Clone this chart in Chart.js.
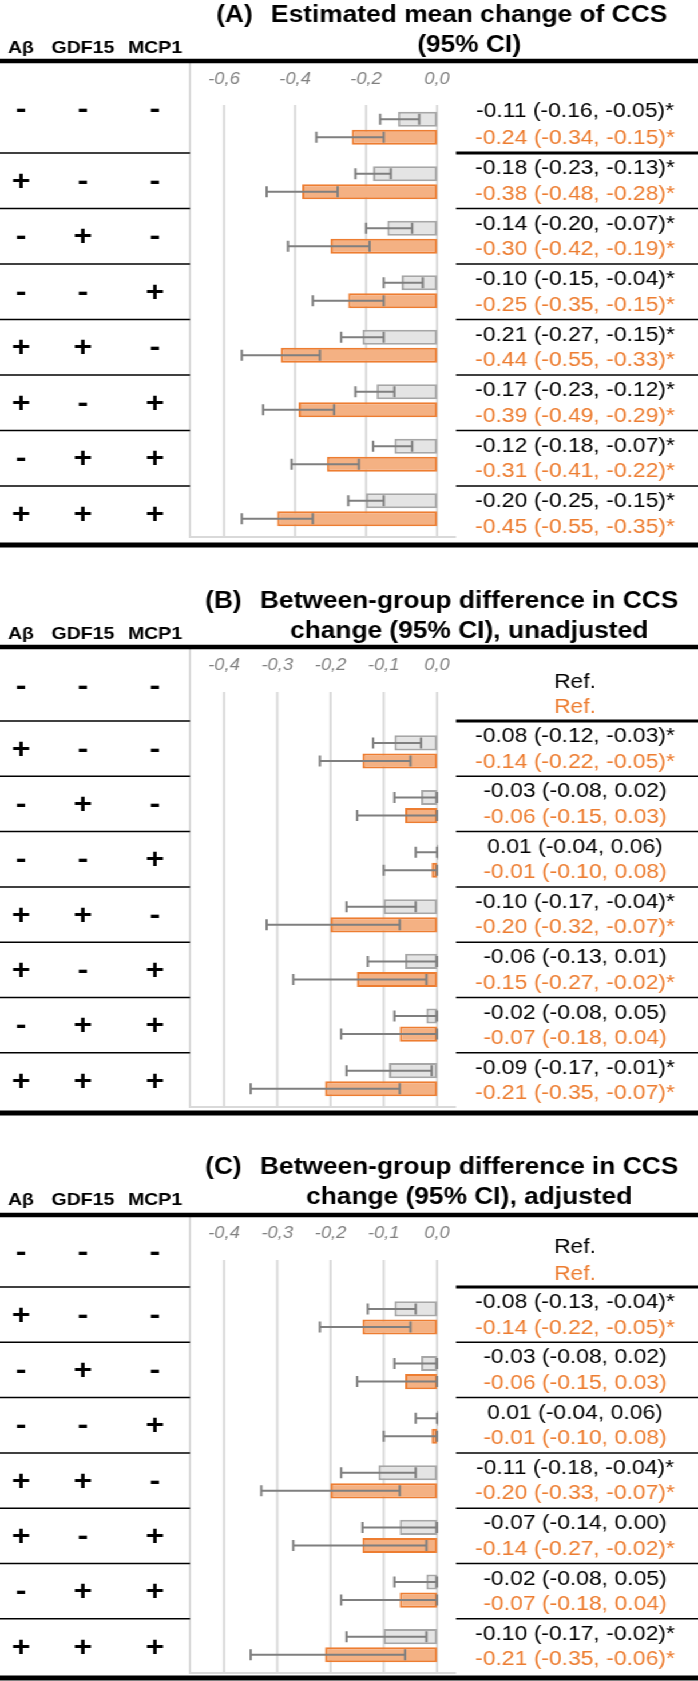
<!DOCTYPE html>
<html lang="en">
<head>
<meta charset="utf-8">
<title>CCS change by biomarker profile</title>
<script src="https://cdn.jsdelivr.net/npm/chart.js@4.4.1/dist/chart.umd.min.js"></script>
<style>
  html, body { margin: 0; padding: 0; background: #fff; overflow: hidden; }
  /* the figure is drawn 610 wide and stretched sideways, like the source picture */
  #page { position: relative; width: 610px; height: 1681px; transform: scaleX(1.1443); transform-origin: 0 0; }
  .panel { position: absolute; left: 0; width: 610px; }
</style>
</head>
<body>
<div id="page">
  <div class="panel" style="top:0;height:586px"><canvas id="chartA"></canvas></div>
  <div class="panel" style="top:586px;height:566px"><canvas id="chartB"></canvas></div>
  <div class="panel" style="top:1152px;height:529px"><canvas id="chartC"></canvas></div>
</div>
<script>
// Table rows (biomarker status)
const rowIds = ['r1', 'r2', 'r3', 'r4', 'r5', 'r6', 'r7', 'r8'];
const abeta = ['-', '+', '-', '-', '+', '+', '-', '+'];
const gdf15 = ['-', '-', '+', '-', '+', '-', '+', '+'];
const mcp1  = ['-', '-', '-', '+', '-', '+', '+', '+'];

// (A) Estimated mean change of CCS
const meanGray   = [-0.11, -0.18, -0.14, -0.10, -0.21, -0.17, -0.12, -0.20];
const lowGray    = [-0.16, -0.23, -0.20, -0.15, -0.27, -0.23, -0.18, -0.25];
const highGray   = [-0.05, -0.13, -0.07, -0.04, -0.15, -0.12, -0.07, -0.15];
const meanOrange = [-0.24, -0.38, -0.30, -0.25, -0.44, -0.39, -0.31, -0.45];
const lowOrange  = [-0.34, -0.48, -0.42, -0.35, -0.55, -0.49, -0.41, -0.55];
const highOrange = [-0.15, -0.28, -0.19, -0.15, -0.33, -0.29, -0.22, -0.35];

// (B) Between-group difference, unadjusted (first row = reference)
const diffGray       = [null, -0.08, -0.03, 0.01, -0.10, -0.06, -0.02, -0.09];
const diffGrayLow    = [null, -0.12, -0.08, -0.04, -0.17, -0.13, -0.08, -0.17];
const diffGrayHigh   = [null, -0.03, 0.02, 0.06, -0.04, 0.01, 0.05, -0.01];
const diffOrange     = [null, -0.14, -0.06, -0.01, -0.20, -0.15, -0.07, -0.21];
const diffOrangeLow  = [null, -0.22, -0.15, -0.10, -0.32, -0.27, -0.18, -0.35];
const diffOrangeHigh = [null, -0.05, 0.03, 0.08, -0.07, -0.02, 0.04, -0.07];

// (C) Between-group difference, adjusted
const adjGray       = [null, -0.08, -0.03, 0.01, -0.11, -0.07, -0.02, -0.10];
const adjGrayLow    = [null, -0.13, -0.08, -0.04, -0.18, -0.14, -0.08, -0.17];
const adjGrayHigh   = [null, -0.04, 0.02, 0.06, -0.04, 0.00, 0.05, -0.02];
const adjOrange     = [null, -0.14, -0.06, -0.01, -0.20, -0.14, -0.07, -0.21];
const adjOrangeLow  = [null, -0.22, -0.15, -0.10, -0.33, -0.27, -0.18, -0.35];
const adjOrangeHigh = [null, -0.05, 0.03, 0.08, -0.07, -0.02, 0.04, -0.06];

// Axis ticks
const ticksA = [-0.6, -0.4, -0.2, 0];
const tickLabelsA = ['-0,6', '-0,4', '-0,2', '0,0'];
const ticksBC = [-0.4, -0.3, -0.2, -0.1, 0];
const tickLabelsBC = ['-0,4', '-0,3', '-0,2', '-0,1', '0,0'];

// Styles
const FONT = '"Liberation Sans", Arial, sans-serif';
const GRAY_FILL = '#e4e4e4', GRAY_LINE = '#a6a6a6';
const ORANGE_FILL = '#f4b183', ORANGE_LINE = '#ed7d31';
const WHISKER = '#7f7f7f', GRID = '#d9d9d9';
const colX = [18.4, 72.5, 135.5];
const boxLeft = 166, boxRight = 398.5, plotLeft = 195.8, plotRight = 381.9, textX = 502.5;
const tickSize = 16;

const panels = [
  { id: 'chartA', letter: '(A)', title: ['Estimated mean change of CCS', '(95% CI)'], height: 586,
    ticks: ticksA, tickLabels: tickLabelsA,
    gray: [meanGray, lowGray, highGray], orange: [meanOrange, lowOrange, highOrange],
    rule: 61, tickY: 80, areaTop: 101, areaBottom: 537, gridTop: 105, endRule: 545,
    firstText: [111, 138], firstSigns: 110, sepStart: 153, sepStep: 55.5 },
  { id: 'chartB', letter: '(B)', title: ['Between-group difference in CCS', 'change (95% CI), unadjusted'], height: 566,
    ticks: ticksBC, tickLabels: tickLabelsBC,
    gray: [diffGray, diffGrayLow, diffGrayHigh], orange: [diffOrange, diffOrangeLow, diffOrangeHigh],
    rule: 61, tickY: 80, areaTop: 84, areaBottom: 521, gridTop: 106, endRule: 527,
    firstText: [96, 121], firstSigns: 101, sepStart: 135, sepStep: 55.3 },
  { id: 'chartC', letter: '(C)', title: ['Between-group difference in CCS', 'change (95% CI), adjusted'], height: 529,
    ticks: ticksBC, tickLabels: tickLabelsBC,
    gray: [adjGray, adjGrayLow, adjGrayHigh], orange: [adjOrange, adjOrangeLow, adjOrangeHigh],
    rule: 63, tickY: 82, areaTop: 84, areaBottom: 521, gridTop: 108, endRule: 526,
    firstText: [95, 122], firstSigns: 101, sepStart: 135, sepStep: 55.3 }
];

function fmt(v) { return v.toFixed(2); }
function ciText(m, lo, hi) {
  if (m == null) return 'Ref.';
  return `${fmt(m)} (${fmt(lo)}, ${fmt(hi)})` + (hi < 0 ? '*' : '');
}

function hline(ctx, x1, x2, y, w, color) {
  ctx.beginPath();
  ctx.lineWidth = w;
  ctx.strokeStyle = color;
  ctx.moveTo(x1, y);
  ctx.lineTo(x2, y);
  ctx.stroke();
}

function makePanelPlugin(p) {
  return {
    id: 'panel_' + p.id,
    beforeDatasetsDraw(chart) {
      // vertical gridlines at the tick values
      const ctx = chart.ctx, xs = chart.scales.x;
      ctx.save();
      ctx.strokeStyle = GRID;
      ctx.lineWidth = 2;
      xs.ticks.forEach(t => {
        const x = xs.getPixelForValue(t.value);
        ctx.beginPath();
        ctx.moveTo(x, p.gridTop);
        ctx.lineTo(x, chart.chartArea.bottom);
        ctx.stroke();
      });
      ctx.restore();
    },
    afterDatasetsDraw(chart) {
      // confidence intervals
      const ctx = chart.ctx, xs = chart.scales.x;
      const series = [p.gray, p.orange];
      ctx.save();
      ctx.strokeStyle = WHISKER;
      ctx.lineWidth = 2;
      series.forEach((s, d) => {
        const meta = chart.getDatasetMeta(d);
        meta.data.forEach((bar, j) => {
          if (s[0][j] == null) return;
          const lo = Math.max(s[1][j], xs.min), hi = Math.min(s[2][j], xs.max);
          const x1 = xs.getPixelForValue(lo), x2 = xs.getPixelForValue(hi);
          const y = bar.y;
          ctx.beginPath();
          ctx.moveTo(x1, y); ctx.lineTo(x2, y);
          ctx.moveTo(x1, y - 5.5); ctx.lineTo(x1, y + 5.5);
          ctx.moveTo(x2, y - 5.5); ctx.lineTo(x2, y + 5.5);
          ctx.stroke();
        });
      });
      ctx.restore();
    },
    afterDraw(chart) {
      const ctx = chart.ctx, W = chart.width;
      const bottom = chart.chartArea.bottom;
      ctx.save();

      // chart frame
      ctx.strokeStyle = GRID;
      ctx.lineWidth = 2;
      ctx.beginPath();
      ctx.moveTo(boxLeft, p.rule);
      ctx.lineTo(boxLeft, bottom);
      ctx.lineTo(boxRight, bottom);
      ctx.stroke();

      // title
      ctx.fillStyle = '#000';
      ctx.textBaseline = 'middle';
      ctx.font = `bold 23px ${FONT}`;
      ctx.textAlign = 'center';
      ctx.fillText(p.title[0], 410, 15.5);
      ctx.fillText(p.title[1], 410, 45.5);
      const w1 = ctx.measureText(p.title[0]).width;
      ctx.textAlign = 'right';
      ctx.fillText(p.letter, 410 - w1 / 2 - 16, 15.5);

      // column headers
      ctx.textAlign = 'center';
      ctx.font = `bold 17px ${FONT}`;
      ['A\u03b2', 'GDF15', 'MCP1'].forEach((h, i) => ctx.fillText(h, colX[i], 48));

      // rules
      hline(ctx, 0, W, p.rule, 4.5, '#000');
      hline(ctx, 0, W, p.endRule, 5, '#000');
      const seps = [];
      for (let k = 0; k < rowIds.length - 1; k++) seps.push(p.sepStart + k * p.sepStep);
      seps.forEach((y, k) => {
        hline(ctx, 0, boxLeft, y, 1.5, '#000');
        hline(ctx, boxRight, W, y, k === 0 ? 3 : 1.5, '#000');
      });

      // signs and values
      rowIds.forEach((r, j) => {
        const signY = j === 0 ? p.firstSigns : seps[j - 1] + 29;
        ctx.font = `bold 28px ${FONT}`;
        ctx.fillStyle = '#000';
        [abeta, gdf15, mcp1].forEach((col, i) => ctx.fillText(col[j], colX[i], signY));

        const y1 = j === 0 ? p.firstText[0] : seps[j - 1] + 15.5;
        const y2 = j === 0 ? p.firstText[1] : seps[j - 1] + 41;
        ctx.font = `20px ${FONT}`;
        ctx.fillStyle = '#000';
        ctx.fillText(ciText(p.gray[0][j], p.gray[1][j], p.gray[2][j]), textX, y1);
        ctx.fillStyle = ORANGE_LINE;
        ctx.fillText(ciText(p.orange[0][j], p.orange[1][j], p.orange[2][j]), textX, y2);
      });
      ctx.restore();
    }
  };
}

panels.forEach(p => {
  // mirrored labels are not clipped to the axis box; place their centre at tickY
  const tickPad = p.tickY - p.areaTop - tickSize * 1.2 / 2;
  new Chart(document.getElementById(p.id), {
    type: 'bar',
    data: {
      labels: rowIds,
      datasets: [
        { label: 'gray', data: p.gray[0], backgroundColor: GRAY_FILL, borderColor: GRAY_LINE,
          borderWidth: 2, borderSkipped: false, categoryPercentage: 0.66, barPercentage: 0.84,
          clip: { left: 4, right: 1, top: 4, bottom: 4 } },
        { label: 'orange', data: p.orange[0], backgroundColor: ORANGE_FILL, borderColor: ORANGE_LINE,
          borderWidth: 2, borderSkipped: false, categoryPercentage: 0.66, barPercentage: 0.84,
          clip: { left: 4, right: 1, top: 4, bottom: 4 } }
      ]
    },
    options: {
      indexAxis: 'y',
      responsive: true,
      maintainAspectRatio: false,
      animation: false,
      events: [],
      layout: { padding: { left: plotLeft, right: 610 - plotRight, top: p.areaTop - 20, bottom: p.height - p.areaBottom } },
      scales: {
        x: {
          position: 'top',
          min: p.ticks[0],
          max: p.ticks[p.ticks.length - 1],
          grid: { display: false },
          border: { display: false },
          afterBuildTicks: s => { s.ticks = p.ticks.map(v => ({ value: v })); },
          afterFit: s => { s.height = 20; },
          ticks: {
            autoSkip: false, maxRotation: 0, minRotation: 0,
            mirror: true,
            padding: tickPad,
            color: '#808080',
            font: { family: FONT, size: tickSize, style: 'italic' },
            callback: (v, i) => p.tickLabels[i]
          }
        },
        y: { display: false }
      },
      plugins: { legend: { display: false }, tooltip: { enabled: false } }
    },
    plugins: [makePanelPlugin(p)]
  });
});
</script>
</body>
</html>
